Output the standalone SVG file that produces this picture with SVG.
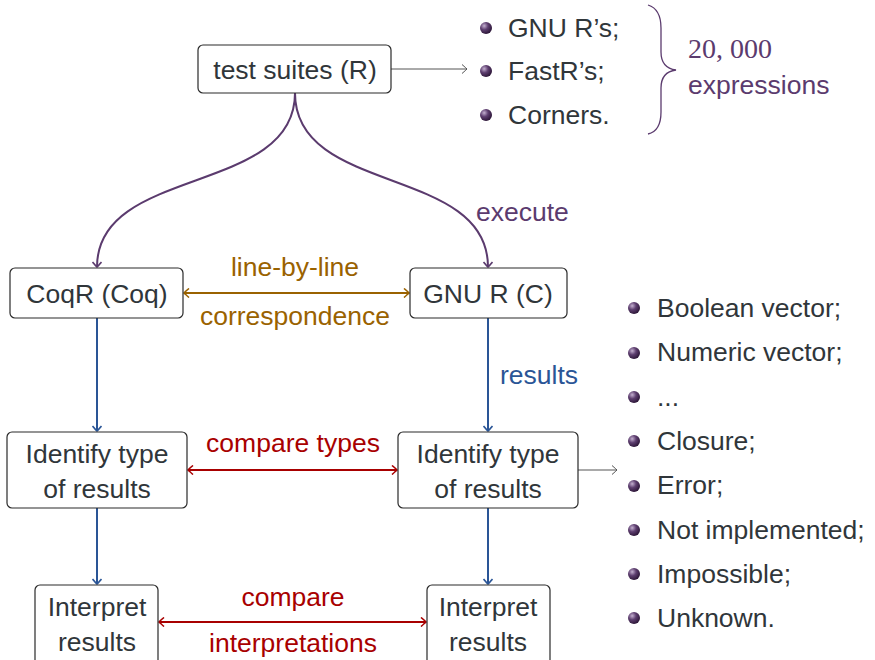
<svg xmlns="http://www.w3.org/2000/svg" width="875" height="660" viewBox="0 0 875 660">
<style>
.box{fill:#fff;stroke:#2a2a2a;stroke-width:1.2}
.t{font-family:"Liberation Sans","DejaVu Sans",sans-serif;font-size:26.5px;fill:#30363a}
.c{text-anchor:middle}
.pur{fill:#5b3b6e}
.org{fill:#9a6200}
.blu{fill:#2a5596}
.red{fill:#a80000}
.lp{fill:none;stroke:#5b3b6e;stroke-width:2}
.lo{fill:none;stroke:#9a6200;stroke-width:2}
.lb{fill:none;stroke:#2a5596;stroke-width:2}
.lr{fill:none;stroke:#a80000;stroke-width:2}
.lg{fill:none;stroke:#555;stroke-width:1}
</style>
<defs>
<radialGradient id="ball" cx="0.35" cy="0.32" r="0.72">
<stop offset="0" stop-color="#c4b0d0"/>
<stop offset="0.45" stop-color="#5e3f70"/>
<stop offset="1" stop-color="#2a1435"/>
</radialGradient>
<marker id="ap" viewBox="-6 -5 8 10" markerWidth="8" markerHeight="10" refX="0" refY="0" orient="auto" markerUnits="userSpaceOnUse"><path d="M-5,-4.5 Q-1,-1 0,0 Q-1,1 -5,4.5" fill="none" stroke="#5b3b6e" stroke-width="1.6"/></marker>
<marker id="ao" viewBox="-6 -5 8 10" markerWidth="8" markerHeight="10" refX="0" refY="0" orient="auto-start-reverse" markerUnits="userSpaceOnUse"><path d="M-5,-4.5 Q-1,-1 0,0 Q-1,1 -5,4.5" fill="none" stroke="#9a6200" stroke-width="1.6"/></marker>
<marker id="ab" viewBox="-6 -5 8 10" markerWidth="8" markerHeight="10" refX="0" refY="0" orient="auto" markerUnits="userSpaceOnUse"><path d="M-5,-4.5 Q-1,-1 0,0 Q-1,1 -5,4.5" fill="none" stroke="#2a5596" stroke-width="1.6"/></marker>
<marker id="ar" viewBox="-6 -5 8 10" markerWidth="8" markerHeight="10" refX="0" refY="0" orient="auto-start-reverse" markerUnits="userSpaceOnUse"><path d="M-5,-4.5 Q-1,-1 0,0 Q-1,1 -5,4.5" fill="none" stroke="#a80000" stroke-width="1.6"/></marker>
<marker id="ag" viewBox="-6 -5 8 10" markerWidth="8" markerHeight="10" refX="0" refY="0" orient="auto" markerUnits="userSpaceOnUse"><path d="M-5,-4.5 Q-1,-1 0,0 Q-1,1 -5,4.5" fill="none" stroke="#555" stroke-width="1"/></marker>
</defs>

<g id="connectors">
<line class="lg" x1="391" y1="69" x2="467" y2="69" marker-end="url(#ag)"/>
<path class="lp" d="M295,93 C295,196 97,165 97,267" marker-end="url(#ap)"/>
<path class="lp" d="M295,93 C295,196 488,165 488,267" marker-end="url(#ap)"/>
<line class="lo" x1="184" y1="293" x2="409" y2="293" marker-start="url(#ao)" marker-end="url(#ao)"/>
<line class="lb" x1="97" y1="318" x2="97" y2="431" marker-end="url(#ab)"/>
<line class="lb" x1="488" y1="318" x2="488" y2="431" marker-end="url(#ab)"/>
<line class="lr" x1="188" y1="470" x2="397" y2="470" marker-start="url(#ar)" marker-end="url(#ar)"/>
<line class="lg" x1="578" y1="470" x2="617" y2="470" marker-end="url(#ag)"/>
<line class="lb" x1="97" y1="508" x2="97" y2="584" marker-end="url(#ab)"/>
<line class="lb" x1="488" y1="508" x2="488" y2="584" marker-end="url(#ab)"/>
<line class="lr" x1="159" y1="622" x2="426" y2="622" marker-start="url(#ar)" marker-end="url(#ar)"/>
<text class="t pur" x="476" y="221">execute</text>
<text class="t org c" x="295" y="276">line-by-line</text>
<text class="t org c" x="295" y="325">correspondence</text>
<text class="t blu" x="500" y="384">results</text>
<text class="t red c" x="293" y="452">compare types</text>
<text class="t red c" x="293" y="606">compare</text>
<text class="t red c" x="293" y="652">interpretations</text>
</g>

<g id="test-suites">
<rect class="box" x="198" y="45" width="193" height="48" rx="5"/>
<text class="t c" x="295" y="79">test suites (R)</text>
</g>

<g id="sources-list">
<circle cx="486" cy="28" r="6" fill="url(#ball)"/>
<circle cx="486" cy="71" r="6" fill="url(#ball)"/>
<circle cx="486" cy="115" r="6" fill="url(#ball)"/>
<text class="t" x="508" y="37">GNU R’s;</text>
<text class="t" x="508" y="80">FastR’s;</text>
<text class="t" x="508" y="124">Corners.</text>
</g>

<g id="brace">
<path d="M648,5 Q661,9 661,28 L661,52 Q661,68 676,70 Q661,72 661,88 L661,112 Q661,131 648,134" fill="none" stroke="#5b3b6e" stroke-width="1.3"/>
<text x="688" y="58" style="font-family:'Liberation Serif','DejaVu Serif',serif;font-size:28px" class="pur">20, 000</text>
<text class="t pur" x="688" y="94">expressions</text>
</g>

<g id="coqr">
<rect class="box" x="10" y="268" width="173" height="50" rx="5"/>
<text class="t c" x="97" y="303">CoqR (Coq)</text>
</g>

<g id="gnur">
<rect class="box" x="410" y="268" width="157" height="50" rx="5"/>
<text class="t c" x="488" y="303">GNU R (C)</text>
</g>

<g id="identify-left">
<rect class="box" x="7" y="432" width="180" height="76" rx="5"/>
<text class="t c" x="97" y="463">Identify type</text>
<text class="t c" x="97" y="498">of results</text>
</g>

<g id="identify-right">
<rect class="box" x="398" y="432" width="180" height="76" rx="5"/>
<text class="t c" x="488" y="463">Identify type</text>
<text class="t c" x="488" y="498">of results</text>
</g>

<g id="interpret-left">
<rect class="box" x="35" y="585" width="123" height="85" rx="5"/>
<text class="t c" x="97" y="616">Interpret</text>
<text class="t c" x="97" y="651">results</text>
</g>

<g id="interpret-right">
<rect class="box" x="427" y="585" width="123" height="85" rx="5"/>
<text class="t c" x="488" y="616">Interpret</text>
<text class="t c" x="488" y="651">results</text>
</g>

<g id="types-list">
<circle cx="634" cy="308" r="6" fill="url(#ball)"/>
<circle cx="634" cy="353" r="6" fill="url(#ball)"/>
<circle cx="634" cy="397" r="6" fill="url(#ball)"/>
<circle cx="634" cy="441" r="6" fill="url(#ball)"/>
<circle cx="634" cy="486" r="6" fill="url(#ball)"/>
<circle cx="634" cy="530" r="6" fill="url(#ball)"/>
<circle cx="634" cy="574" r="6" fill="url(#ball)"/>
<circle cx="634" cy="618" r="6" fill="url(#ball)"/>
<text class="t" x="657" y="317">Boolean vector;</text>
<text class="t" x="657" y="361">Numeric vector;</text>
<text class="t" x="657" y="406">...</text>
<text class="t" x="657" y="450">Closure;</text>
<text class="t" x="657" y="494">Error;</text>
<text class="t" x="657" y="539">Not implemented;</text>
<text class="t" x="657" y="583">Impossible;</text>
<text class="t" x="657" y="627">Unknown.</text>
</g>
</svg>
